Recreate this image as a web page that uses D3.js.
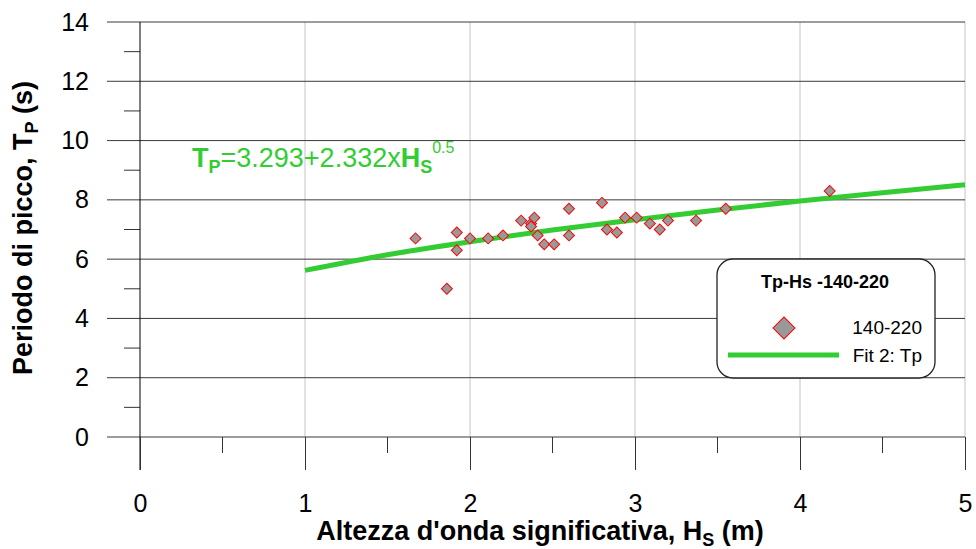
<!DOCTYPE html>
<html>
<head>
<meta charset="utf-8">
<script src="https://cdn.jsdelivr.net/npm/d3@7"></script>
<style>
  body { margin: 0; background: #fff; }
  svg { display: block; font-family: "Liberation Sans", Arial, sans-serif; }
</style>
</head>
<body>
<svg id="chart" width="976" height="549"></svg>
<script>
// Tp vs Hs, serie 140-220 con curva di fit
const hsValues = [1.67, 1.92, 1.92, 1.86, 2.00, 2.11, 2.20, 2.31, 2.37, 2.39, 2.37, 2.41, 2.45, 2.51, 2.60, 2.60, 2.80, 2.83, 2.89, 2.94, 3.01, 3.09, 3.15, 3.20, 3.37, 3.55, 4.18];
const tpValues = [6.7, 6.9, 6.3, 5.0, 6.7, 6.7, 6.8, 7.3, 7.2, 7.4, 7.1, 6.8, 6.5, 6.5, 7.7, 6.8, 7.9, 7.0, 6.9, 7.4, 7.4, 7.2, 7.0, 7.3, 7.3, 7.7, 8.3];

// curva di fit
const fitHs = [1, 1.5, 2, 2.5, 3, 3.5, 4, 4.5, 5];
const fitTp = [5.62, 6.15, 6.59, 6.98, 7.33, 7.66, 7.96, 8.24, 8.51];

const xTicks = [0, 1, 2, 3, 4, 5];
const xMinor = [0.5, 1.5, 2.5, 3.5, 4.5];
const yTicks = [0, 2, 4, 6, 8, 10, 12, 14];
const yMinor = [1, 3, 5, 7, 9, 11, 13];

const green = '#33cc33';
const svg = d3.select('#chart');

const x = d3.scaleLinear().domain([0, 5]).range([140, 965]);
const y = d3.scaleLinear().domain([0, 14]).range([437, 22]);

// vertical grid (light)
svg.append('g').selectAll('line')
    .data(xTicks.slice(1))
    .enter().append('line')
    .attr('x1', d => x(d)).attr('x2', d => x(d))
    .attr('y1', y(14)).attr('y2', y(0))
    .attr('stroke', '#c4c4c4').attr('stroke-width', 1);

// horizontal grid (dark), extends left past the axis as the major tick
svg.append('g').selectAll('line')
    .data(yTicks)
    .enter().append('line')
    .attr('x1', x(0) - 33).attr('x2', x(5))
    .attr('y1', d => y(d)).attr('y2', d => y(d))
    .attr('stroke', '#3a3a3a').attr('stroke-width', 1);

// y axis: labels + minor ticks
const yAxis = svg.append('g')
    .attr('transform', `translate(${x(0)},0)`)
    .call(d3.axisLeft(y).tickValues(yTicks).tickSize(33).tickPadding(18).tickFormat(d3.format('d')));
yAxis.select('.domain').remove();
yAxis.selectAll('.tick line').remove();
yAxis.selectAll('text')
    .attr('font-size', 25).attr('fill', '#000').attr('font-family', '"Liberation Sans", Arial, sans-serif');

svg.append('g').selectAll('line')
    .data(yMinor)
    .enter().append('line')
    .attr('x1', x(0) - 16).attr('x2', x(0))
    .attr('y1', d => y(d)).attr('y2', d => y(d))
    .attr('stroke', '#333');

svg.append('line')
    .attr('x1', x(0)).attr('x2', x(0))
    .attr('y1', y(14)).attr('y2', y(0) + 33)
    .attr('stroke', '#000');

// x axis
const xAxis = svg.append('g')
    .attr('transform', `translate(0,${y(0)})`)
    .call(d3.axisBottom(x).tickValues(xTicks).tickSize(33).tickPadding(24).tickFormat(d3.format('d')));
xAxis.select('.domain').remove();
xAxis.selectAll('.tick line').attr('stroke', '#333');
xAxis.selectAll('text')
    .attr('font-size', 25).attr('fill', '#000').attr('font-family', '"Liberation Sans", Arial, sans-serif');

svg.append('g').selectAll('line')
    .data(xMinor)
    .enter().append('line')
    .attr('x1', d => x(d)).attr('x2', d => x(d))
    .attr('y1', y(0)).attr('y2', y(0) + 16)
    .attr('stroke', '#333');

// fit curve
const line = d3.line()
    .x(d => x(d[0]))
    .y(d => y(d[1]))
    .curve(d3.curveMonotoneX);

svg.append('path')
    .datum(d3.zip(fitHs, fitTp))
    .attr('d', line)
    .attr('fill', 'none')
    .attr('stroke', green)
    .attr('stroke-width', 5);

// points
const diamond = d3.symbol().type(d3.symbolSquare).size(60);
svg.append('g').selectAll('path')
    .data(d3.zip(hsValues, tpValues))
    .enter().append('path')
    .attr('d', diamond)
    .attr('transform', d => `translate(${x(d[0])},${y(d[1])}) rotate(45)`)
    .attr('fill', '#999999')
    .attr('stroke', '#ff0000')
    .attr('stroke-width', 1);

// equation
const eq = svg.append('text')
    .attr('x', 192).attr('y', 167)
    .attr('font-size', 27).attr('fill', green);
eq.append('tspan').attr('font-weight', 'bold').text('T');
eq.append('tspan').attr('font-weight', 'bold').attr('font-size', 18).attr('dy', 6).text('P');
eq.append('tspan').attr('dy', -6).text('=3.293+2.332x');
eq.append('tspan').attr('font-weight', 'bold').text('H');
eq.append('tspan').attr('font-weight', 'bold').attr('font-size', 18).attr('dy', 6).text('S');
eq.append('tspan').attr('font-size', 16).attr('dy', -20).text('0.5');

// axis titles
const xt = svg.append('text')
    .attr('x', 540).attr('y', 540)
    .attr('text-anchor', 'middle')
    .attr('font-size', 27).attr('font-weight', 'bold');
xt.append('tspan').text("Altezza d'onda significativa, H");
xt.append('tspan').attr('font-size', 18).attr('dy', 6).text('S');
xt.append('tspan').attr('dy', -6).text(' (m)');

const yt = svg.append('text')
    .attr('transform', 'translate(32,228) rotate(-90)')
    .attr('text-anchor', 'middle')
    .attr('font-size', 27).attr('font-weight', 'bold');
yt.append('tspan').text('Periodo di picco, T');
yt.append('tspan').attr('font-size', 18).attr('dy', 6).text('P');
yt.append('tspan').attr('dy', -6).text(' (s)');

// legend
const lg = svg.append('g');
lg.append('rect')
    .attr('x', 717).attr('y', 259)
    .attr('width', 218).attr('height', 119)
    .attr('rx', 16).attr('ry', 16)
    .attr('fill', '#fff').attr('stroke', '#222').attr('stroke-width', 1.3);
lg.append('text')
    .attr('x', 825).attr('y', 288)
    .attr('text-anchor', 'middle')
    .attr('font-size', 18).attr('font-weight', 'bold')
    .text('Tp-Hs -140-220');
lg.append('path')
    .attr('d', d3.symbol().type(d3.symbolSquare).size(240))
    .attr('transform', 'translate(784,328) rotate(45)')
    .attr('fill', '#999999').attr('stroke', '#ff0000').attr('stroke-width', 1);
lg.append('text')
    .attr('x', 922).attr('y', 334)
    .attr('text-anchor', 'end').attr('font-size', 19)
    .text('140-220');
lg.append('line')
    .attr('x1', 728).attr('x2', 839)
    .attr('y1', 355).attr('y2', 355)
    .attr('stroke', green).attr('stroke-width', 5);
lg.append('text')
    .attr('x', 922).attr('y', 362)
    .attr('text-anchor', 'end').attr('font-size', 19)
    .text('Fit 2: Tp');
</script>
</body>
</html>
